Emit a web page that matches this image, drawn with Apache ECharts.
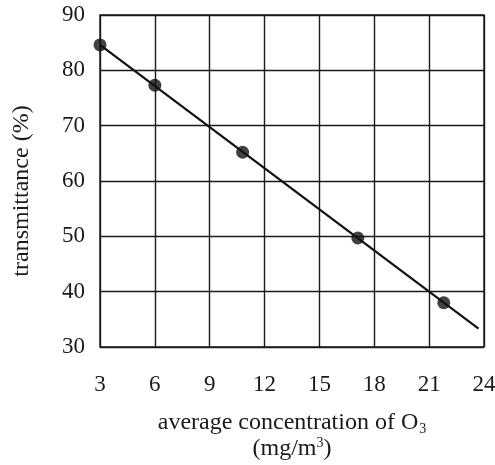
<!DOCTYPE html>
<html>
<head>
<meta charset="utf-8">
<script src="https://cdn.jsdelivr.net/npm/echarts@6/dist/echarts.min.js"></script>
<style>
  html, body { margin: 0; padding: 0; background: #fff; }
  #chart { width: 495px; height: 465px; }
</style>
</head>
<body>
<div id="chart"></div>
<script>
// Measured points: O3 concentration (mg/m3) vs. transmittance (%)
const concentration = [3, 6, 10.8, 17.1, 21.8];
const transmittance = [84.6, 77.3, 65.2, 49.7, 38.0];

// End points of the fitted straight line
const fitX = [3, 23.7];
const fitY = [84.6, 33.3];

// Axis settings
const xTicks = { min: 3, max: 24, step: 3 };
const yTicks = { min: 30, max: 90, step: 10 };

const points = concentration.map((c, i) => [c, transmittance[i]]);
const fitLine = fitX.map((x, i) => [x, fitY[i]]);

const FONT = '"Liberation Serif", "DejaVu Serif", serif';
const INK = '#1a1a1a';

const chart = echarts.init(document.getElementById('chart'), null, { renderer: 'canvas' });

chart.setOption({
  backgroundColor: '#ffffff',
  animation: false,
  grid: {
    left: 100, top: 15, width: 384, height: 332,
    containLabel: false, outerBoundsMode: 'none',
    show: true, borderColor: INK, borderWidth: 1.4, backgroundColor: 'transparent'
  },
  xAxis: {
    type: 'value',
    min: xTicks.min, max: xTicks.max, interval: xTicks.step,
    axisLine: { show: false },
    axisTick: { show: false },
    splitLine: { show: true, lineStyle: { color: INK, width: 1.4 } },
    axisLabel: { color: INK, fontFamily: FONT, fontSize: 23, margin: 26 },
    name: 'average concentration of O{sub|3}\n(mg/m{sup|3})',
    nameLocation: 'middle',
    nameGap: 63,
    nameTextStyle: {
      color: INK, fontFamily: FONT, fontSize: 24, lineHeight: 26, align: 'center',
      rich: {
        sub: { fontFamily: FONT, fontSize: 14, color: INK, verticalAlign: 'bottom', padding: [15, 0, 0, 1] },
        sup: { fontFamily: FONT, fontSize: 14, color: INK, verticalAlign: 'top', padding: [0, 0, 9, 0] }
      }
    }
  },
  yAxis: {
    type: 'value',
    min: yTicks.min, max: yTicks.max, interval: yTicks.step,
    axisLine: { show: false },
    axisTick: { show: false },
    splitLine: { show: true, lineStyle: { color: INK, width: 1.4 } },
    axisLabel: { color: INK, fontFamily: FONT, fontSize: 23, margin: 15 },
    name: 'transmittance (%)',
    nameLocation: 'middle',
    nameGap: 66,
    nameTextStyle: { color: INK, fontFamily: FONT, fontSize: 24, padding: [0, 20, 0, 0] }
  },
  series: [
    {
      type: 'line',
      data: fitLine,
      showSymbol: false,
      lineStyle: { color: '#111', width: 2.2 },
      z: 3
    },
    {
      type: 'scatter',
      data: points,
      symbol: 'circle',
      symbolSize: 13,
      itemStyle: { color: '#111' },
      z: 4
    }
  ]
});
</script>
</body>
</html>
